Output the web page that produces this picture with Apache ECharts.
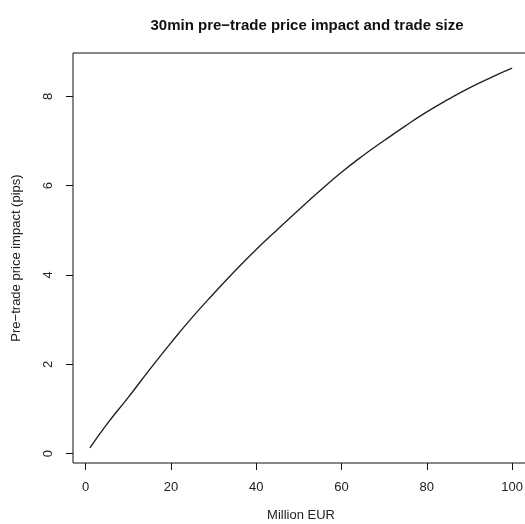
<!DOCTYPE html>
<html>
<head>
<meta charset="utf-8">
<script src="https://cdn.jsdelivr.net/npm/echarts@6/dist/echarts.min.js"></script>
<style>html,body{margin:0;padding:0;background:#fff}#c{width:525px;height:524px}</style>
</head>
<body>
<div id="c"></div>
<script>
const tradeSize = [1,5,10,15,20,25,30,35,40,45,50,55,60,65,70,75,80,85,90,95,100];
const priceImpact = [0.13,0.66,1.26,1.88,2.48,3.05,3.58,4.09,4.57,5.02,5.46,5.89,6.30,6.67,7.01,7.34,7.65,7.93,8.19,8.42,8.63];
const xTicks = [0,20,40,60,80,100];
const yTicks = [0,2,4,6,8];
const titleText = '30min pre\u2212trade price impact and trade size';
const xName = 'Million EUR';
const yName = 'Pre\u2212trade price impact (pips)';

const chart = echarts.init(document.getElementById('c'), null, {renderer:'canvas'});
const font = 'Liberation Sans, Arial, Helvetica, sans-serif';
const xmin = Math.min(...tradeSize), xmax = Math.max(...tradeSize);
const ymin = Math.min(...priceImpact), ymax = Math.max(...priceImpact);
const xpad = (xmax - xmin) * 0.04, ypad = (ymax - ymin) * 0.04;

chart.setOption({
  animation: false,
  backgroundColor: '#fff',
  title: {
    text: titleText, left: 302, top: 13, textAlign: 'center',
    textStyle: {fontFamily: font, fontWeight: 'bold', fontSize: 15, color: '#111'}
  },
  grid: {left: 73, top: 53, right: -4, bottom: 61, show: true, borderColor: '#111', borderWidth: 1,
         backgroundColor: 'transparent', containLabel: false, outerBoundsMode: 'none'},
  xAxis: {
    type: 'value', min: xmin - xpad, max: xmax + xpad,
    axisLine: {show: false, onZero: false},
    splitLine: {show: false},
    axisTick: {show: true, inside: false, length: 7, customValues: xTicks, lineStyle: {color: '#111'}},
    axisLabel: {show: true, customValues: xTicks, margin: 18, fontFamily: font, fontSize: 13, color: '#222'},
    name: xName, nameLocation: 'middle', nameGap: 46,
    nameTextStyle: {fontFamily: font, fontSize: 13, color: '#222'}
  },
  yAxis: {
    type: 'value', min: ymin - ypad, max: ymax + ypad,
    axisLine: {show: false, onZero: false},
    splitLine: {show: false},
    axisTick: {show: true, inside: false, length: 7, customValues: yTicks, lineStyle: {color: '#111'}},
    axisLabel: {show: true, customValues: yTicks, rotate: 90, margin: 18, fontFamily: font, fontSize: 13, color: '#222'},
    name: yName, nameLocation: 'middle', nameGap: 50, nameRotate: 90,
    nameTextStyle: {fontFamily: font, fontSize: 13, color: '#222'}
  },
  series: [{
    type: 'line', smooth: true, symbol: 'none',
    data: tradeSize.map((x, i) => [x, priceImpact[i]]),
    lineStyle: {color: '#222', width: 1.4}
  }]
});
</script>
</body>
</html>
